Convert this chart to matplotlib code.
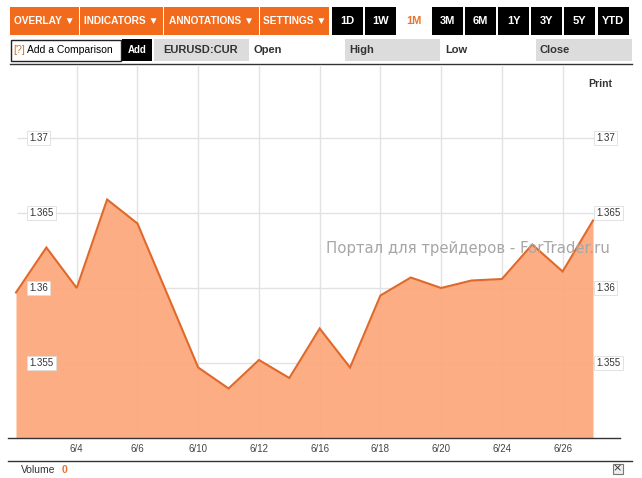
import matplotlib
matplotlib.use("Agg")
import matplotlib.pyplot as plt
from matplotlib.patches import Rectangle
import numpy as np

# EURUSD closes
closes = [1.3597, 1.3627, 1.3600, 1.3659, 1.3643, 1.3595, 1.3547, 1.3533, 1.3552, 1.3540,
          1.3573, 1.3547, 1.3595, 1.3607, 1.3600, 1.3605, 1.3606, 1.3629, 1.3611, 1.3645]
date_labels = ["6/4", "6/6", "6/10", "6/12", "6/16", "6/18", "6/20", "6/24", "6/26"]
date_pos = [2, 4, 6, 8, 10, 12, 14, 16, 18]
price_ticks = [1.355, 1.36, 1.365, 1.37]
price_labels = ["1.355", "1.36", "1.365", "1.37"]

menu_items = ["OVERLAY \u25BC", "INDICATORS \u25BC", "ANNOTATIONS \u25BC", "SETTINGS \u25BC"]
menu_edges = [10, 80, 164, 260, 330]
ranges = ["1D", "1W", "1M", "3M", "6M", "1Y", "3Y", "5Y", "YTD"]
active_range = "1M"

ORANGE = "#f26b1d"
FILL = "#fca77a"
LINE = "#e0692a"
GRID = "#e2e2e2"

W, H = 642, 478
fig = plt.figure(figsize=(W / 100, H / 100), dpi=100)
fig.patch.set_facecolor("white")

# background axes in pixel coords for the toolbar etc.
bg = fig.add_axes([0, 0, 1, 1], zorder=0)
bg.set_xlim(0, W)
bg.set_ylim(H, 0)
bg.axis("off")

# orange menu buttons
for i, lab in enumerate(menu_items):
    x0, x1 = menu_edges[i], menu_edges[i + 1] - 1
    bg.add_patch(Rectangle((x0, 7), x1 - x0, 28, color=ORANGE, lw=0))
    bg.text((x0 + x1) / 2, 21, lab, color="white", fontsize=7.3, fontweight="bold",
            ha="center", va="center", family="Liberation Sans")

# range buttons
for i, lab in enumerate(ranges):
    x0 = 332 + i * 33.2
    if lab == active_range:
        bg.text(x0 + 15.5, 21, lab, color="#e8742e", fontsize=8, fontweight="bold",
                ha="center", va="center", family="Liberation Sans")
        continue
    bg.add_patch(Rectangle((x0, 7), 31, 28, color="black", lw=0))
    bg.text(x0 + 15.5, 21, lab, color="white", fontsize=8, fontweight="bold",
            ha="center", va="center", family="Liberation Sans")

# second row
bg.add_patch(Rectangle((10.5, 39.5), 110, 21.5, facecolor="white", edgecolor="#222222", lw=1))
bg.text(13, 50, "[?]", color="#c9772f", fontsize=7.5, va="center", family="Liberation Sans")
bg.text(27, 50, "Add a Comparison", color="black", fontsize=7.5, va="center", family="Liberation Sans")
bg.add_patch(Rectangle((122, 39), 30, 22, color="black", lw=0))
bg.text(137, 50, "Add", color="white", fontsize=7, fontweight="bold", ha="center", va="center",
        family="Liberation Sans")
bg.add_patch(Rectangle((154, 39), 95, 22, color="#dcdcdc", lw=0))
bg.text(201, 50, "EURUSD:CUR", color="#333333", fontsize=8, fontweight="bold", ha="center",
        va="center", family="Liberation Sans")
bg.text(254, 50, "Open", color="#333333", fontsize=8, fontweight="bold", va="center",
        family="Liberation Sans")
bg.add_patch(Rectangle((345, 39), 95, 22, color="#dcdcdc", lw=0))
bg.text(349, 50, "High", color="#333333", fontsize=8, fontweight="bold", va="center",
        family="Liberation Sans")
bg.text(445, 50, "Low", color="#333333", fontsize=8, fontweight="bold", va="center",
        family="Liberation Sans")
bg.add_patch(Rectangle((536, 39), 96, 22, color="#dcdcdc", lw=0))
bg.text(540, 50, "Close", color="#333333", fontsize=8, fontweight="bold", va="center",
        family="Liberation Sans")
bg.plot([10, 632], [64, 64], color="#333333", lw=1)

# bottom strip
bg.plot([8, 632], [461, 461], color="#333333", lw=1)
bg.text(21, 470, "Volume", color="#333333", fontsize=7.5, va="center", family="Liberation Sans")
bg.text(62, 470, "0", color="#e8742e", fontsize=7.5, fontweight="bold", va="center",
        family="Liberation Sans")
bg.add_patch(Rectangle((612.5, 463.5), 10, 10, facecolor="#eeeeee", edgecolor="#777777", lw=0.8))
bg.text(617.5, 468.5, "\u00d7", color="#333333", fontsize=8, ha="center", va="center")
bg.text(600, 84, "Print", color="#333333", fontsize=7.5, fontweight="bold", ha="center",
        va="center", family="Liberation Sans")

# chart axes, mapped so index 0 sits at px 16 and index 19 at px 593
px_per = (593 - 16) / 19
ax = fig.add_axes([8 / W, (H - 438) / H, 612 / W, 373 / H], zorder=1)
ax.patch.set_alpha(0)
ax.set_xlim((8 - 16) / px_per, (620 - 16) / px_per)
ax.set_ylim(1.35, 1.37 + 73 / 15000)

x = np.arange(len(closes))
ax.hlines(price_ticks, (17 - 16) / px_per, (615 - 16) / px_per, color=GRID, lw=1, zorder=0)
ax.vlines(date_pos, 1.35, 1.38, color=GRID, lw=1, zorder=0)

ax.fill_between(x, 1.35, closes, color=FILL, alpha=0.93, lw=0, zorder=1)
ax.plot(x, closes, color=LINE, lw=1.5, zorder=2, solid_joinstyle="miter")

# watermark on top of the chart
ax.text((326 - 16) / px_per, 1.37 - (249 - 138) / 15000, "Портал для трейдеров - ForTrader.ru",
        fontsize=10.7, color="#a6a6a6", ha="left", va="center", zorder=4)

for v, lab in zip(price_ticks, price_labels):
    for xp in [(29 - 16) / px_per, (596 - 16) / px_per]:
        ax.text(xp, v, lab, fontsize=7, color="#333333", ha="left", va="center",
                family="Liberation Sans", zorder=3,
                bbox=dict(boxstyle="square,pad=0.25", facecolor="white", edgecolor="#dddddd", lw=0.6))

ax.set_xticks(date_pos)
ax.set_xticklabels(date_labels, fontsize=7, color="#444444", family="Liberation Sans")
ax.tick_params(axis="x", length=0, pad=4)
ax.set_yticks([])
for s in ["top", "left", "right"]:
    ax.spines[s].set_visible(False)
ax.spines["bottom"].set_color("#333333")
ax.spines["bottom"].set_linewidth(1)

fig.savefig("out.png", dpi=100)
